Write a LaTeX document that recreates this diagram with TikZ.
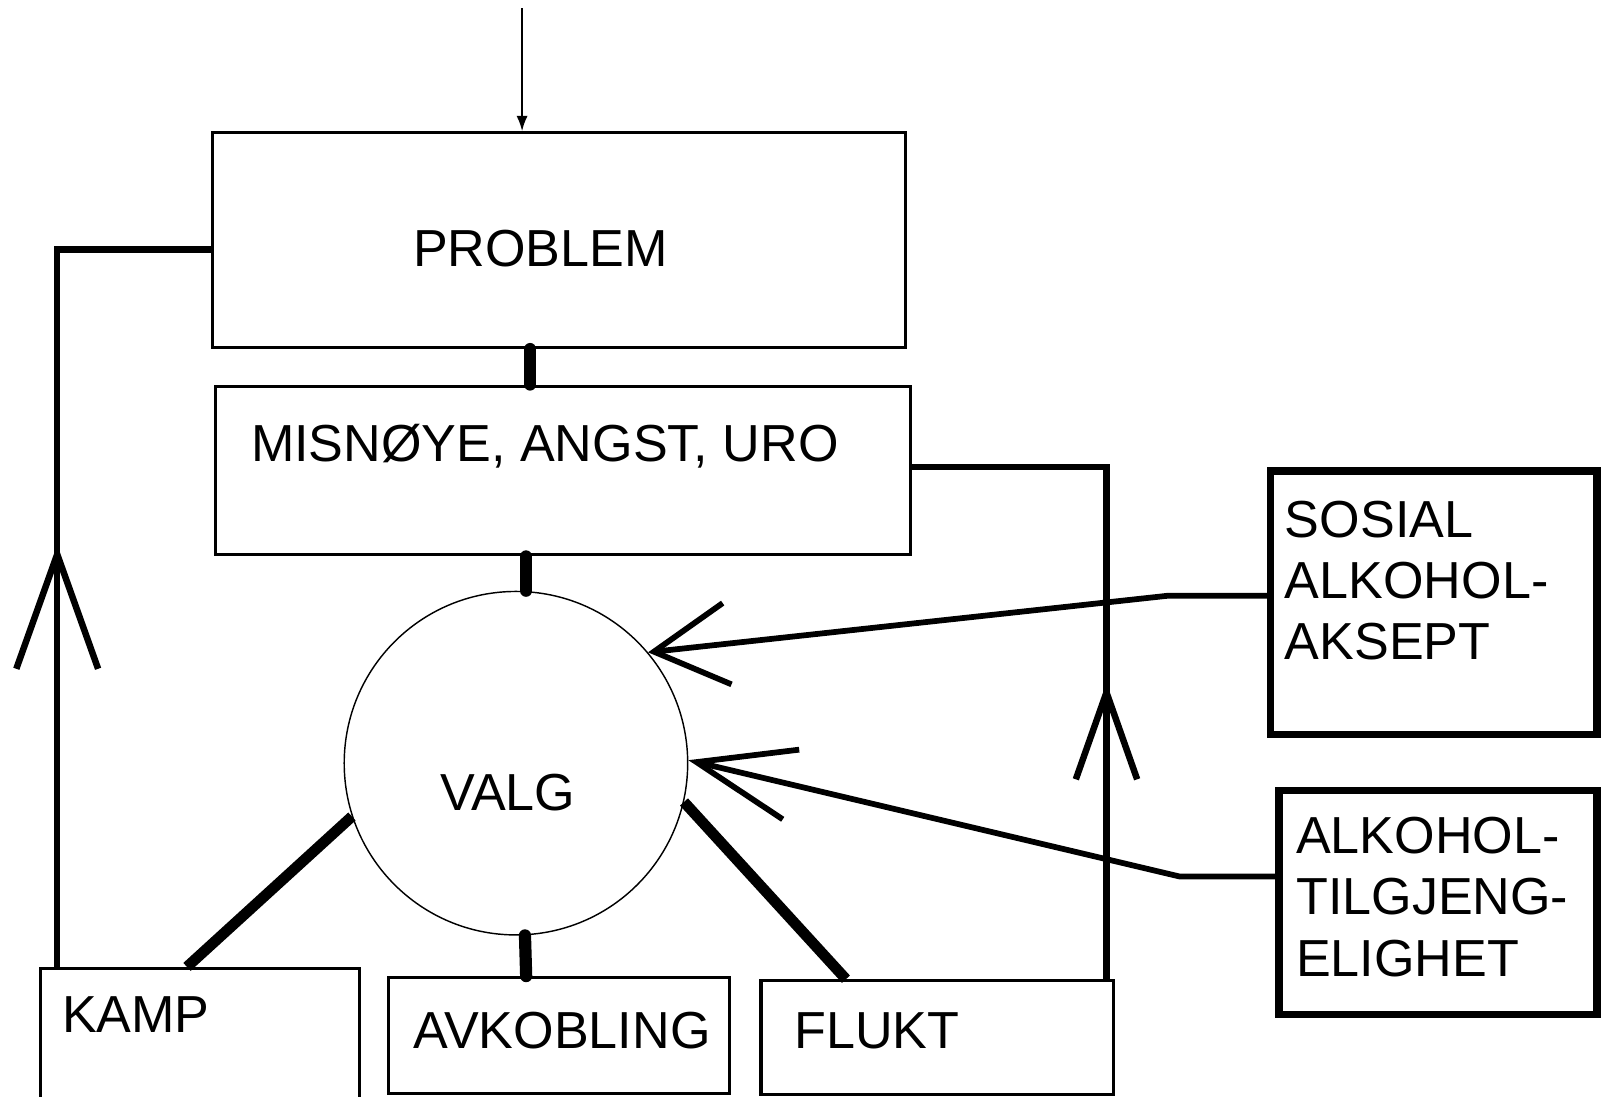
\documentclass[tikz,border=0pt]{standalone}
\usepackage{fontspec}
\setmainfont{Liberation Sans}
\usetikzlibrary{calc, arrows.meta, decorations.markings}

\begin{document}
\begin{tikzpicture}[x=0.01cm, y=-0.01cm,
    box/.style={draw, line width=0.9pt, inner sep=0pt},
    heavybox/.style={draw, line width=2pt, inner sep=0pt},
    lbl/.style={inner sep=0pt, font=\fontsize{14.5}{17}\selectfont, align=left},
    stub/.style={line width=3.4pt, line cap=round},
    branch/.style={line width=3pt},
    feedback/.style={line width=1.8pt},
    influence/.style={line width=1.6pt},
    midbarb/.style n args={3}{postaction={decorate, decoration={markings,
        mark=at position #1 with {\arrow{Straight Barb[length=#2, width=#3]}}}}}
]
    \useasboundingbox (0,0) rectangle (1568,1073);

    % boxes and the circle
    \node[box, minimum width=6.78cm, minimum height=2.1cm] (pbox) at (547,235) {};
    \node[box, minimum width=6.8cm, minimum height=1.65cm] (mbox) at (551,460.5) {};
    \node[draw, circle, line width=0.4pt, minimum size=3.36cm, inner sep=0pt] (valg) at (505,747) {};
    \node[box, minimum width=3.12cm, minimum height=1.37cm] (kbox) at (196,1016.5) {};
    \node[box, minimum width=3.34cm, minimum height=1.13cm] (abox) at (547,1013.5) {};
    \node[box, minimum width=3.45cm, minimum height=1.11cm] (fbox) at (917.5,1015.5) {};
    \node[heavybox, minimum width=3.19cm, minimum height=2.58cm] (sbox) at (1403.5,590) {};
    \node[heavybox, minimum width=3.11cm, minimum height=2.19cm] (tbox) at (1407.5,883.5) {};

    % texts
    \node[lbl] (tproblem) at (529,243) {PROBLEM};
    \node[lbl, anchor=west] (tmisnoye) at (245,437) {MISNØYE, ANGST, URO};
    \node[lbl] (tvalg) at (497,776) {VALG};
    \node[lbl, anchor=west] (tkamp) at (60,993) {KAMP};
    \node[lbl] (tavkobling) at (550,1009) {AVKOBLING};
    \node[lbl, anchor=west] (tflukt) at (777,1009) {FLUKT};
    \node[lbl, anchor=west] (tsosial) at (1257,568) {SOSIAL\\ALKOHOL-\\AKSEPT};
    \node[lbl, anchor=west] (ttilgj) at (1268,878) {ALKOHOL-\\TILGJENG-\\ELIGHET};

    % helper coordinates
    \coordinate (topin) at (511,8);
    \coordinate (c519) at (519,0);
    \coordinate (c515) at (515,0);
    \coordinate (ck) at (183,0);
    \coordinate (cf) at (828,0);
    \coordinate (lfb) at (56,244);
    \coordinate (rfb) at (1083,457);
    \coordinate (sbend) at (1144,583);
    \coordinate (tbend) at (1155,858);

    \draw[line width=0.5pt, -{Latex[length=1.5mm, width=1.1mm]}] (topin) -- (pbox.north -| topin);
    \draw[stub] (pbox.south -| c519) -- (mbox.north -| c519);
    \draw[stub] (mbox.south -| c515) -- (valg.north -| c515);
    \draw[stub] (valg.-87) -- (abox.north -| c515);
    \draw[branch] (valg.198) -- (kbox.north -| ck);
    \draw[branch] (valg.-13) -- (fbox.north -| cf);

    % feedback loops
    \draw[feedback, midbarb={4.13cm}{1.12cm}{0.8cm}] (kbox.north -| lfb) -- (lfb) -- (pbox.west |- lfb);
    \draw[feedback, midbarb={2.9cm}{0.85cm}{0.6cm}] (fbox.north -| rfb) -- (rfb) -- (mbox.east |- rfb);

    % influences on the choice
    \draw[influence, -{Straight Barb[length=0.72cm, width=0.8cm]}] (sbox.west |- sbend) -- (sbend) -- (valg.40);
    \draw[influence, -{Straight Barb[length=0.95cm, width=0.7cm]}] (tbox.west |- tbend) -- (tbend) -- (valg.1);
\end{tikzpicture}
\end{document}
